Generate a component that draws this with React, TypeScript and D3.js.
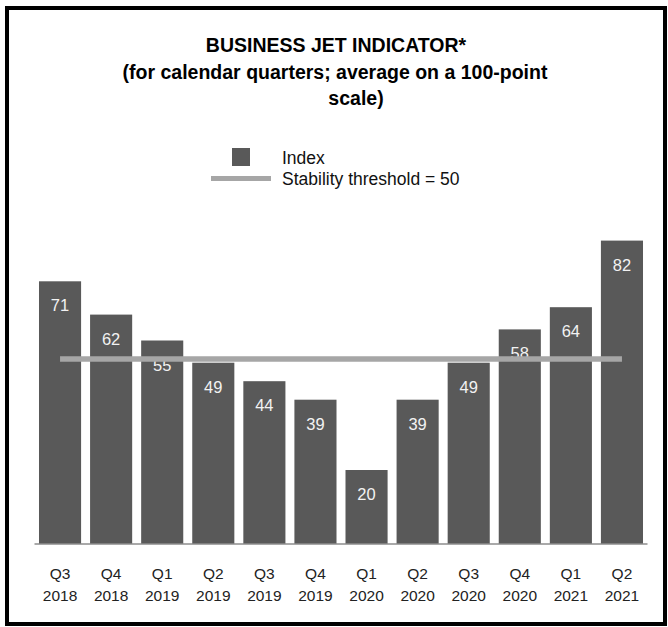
import React from "react";
import * as d3 from "d3";

const quarters = ["Q3", "Q4", "Q1", "Q2", "Q3", "Q4", "Q1", "Q2", "Q3", "Q4", "Q1", "Q2"];
const years = ["2018", "2018", "2019", "2019", "2019", "2019", "2020", "2020", "2020", "2020", "2021", "2021"];
const indexValues = [71, 62, 55, 49, 44, 39, 20, 39, 49, 58, 64, 82];
const thresholdValue = 50;
const titleLines = ["BUSINESS JET INDICATOR*", "(for calendar quarters; average on a 100-point", "scale)"];
const legendLabels = ["Index", "Stability threshold = 50"];

const W = 668;
const H = 627;
const FONT = "'Liberation Sans', Arial, sans-serif";
const BAR = "#595959";
const LINE = "#a6a6a6";

export default function App() {
  const keys = quarters.map((q, i) => `${q} ${years[i]}`);
  const x = d3.scaleBand<string>().domain(keys).range([34.5, 647.5]).paddingInner(0.176).paddingOuter(0.088);
  const y = d3.scaleLinear().domain([0, 100]).range([544, 174]);
  const bw = x.bandwidth();
  const lineGen = d3.line<number>()
    .x((_, i) => (x(keys[i]) as number) + bw / 2)
    .y((v) => y(v));
  const thresholdPts = [thresholdValue, ...indexValues.slice(1).map(() => thresholdValue)];

  return (
    <svg width={W} height={H} style={{ position: "absolute", left: 0, top: 0, background: "#fff" }} fontFamily={FONT}>
      <rect x={7} y={8} width={658} height={616} fill="#fff" stroke="#000" strokeWidth={4} />
      <g textAnchor="middle" fontWeight="bold" fontSize={19.5} fill="#000">
        <text x={336} y={52}>{titleLines[0]}</text>
        <text x={335} y={79}>{titleLines[1]}</text>
        <text x={356} y={105}>{titleLines[2]}</text>
      </g>
      <g>
        <rect x={232} y={148} width={18} height={18} fill={BAR} />
        <line x1={211} x2={271} y1={178.5} y2={178.5} stroke={LINE} strokeWidth={5} />
        <text x={282} y={164} fontSize={17.5} fill="#111">{legendLabels[0]}</text>
        <text x={282} y={184.5} fontSize={17.5} fill="#111">{legendLabels[1]}</text>
      </g>
      <g>
        {indexValues.map((v, i) => (
          <rect key={keys[i]} x={x(keys[i])} y={y(v)} width={bw} height={y(0) - y(v)} fill={BAR} />
        ))}
      </g>
      <line x1={34.5} x2={647.5} y1={y(0)} y2={y(0)} stroke="#8c8c8c" strokeWidth={1.5} />
      <g textAnchor="middle" fontSize={16.5} fill="#f2f2f2">
        {indexValues.map((v, i) => (
          <text key={keys[i]} x={(x(keys[i]) as number) + bw / 2} y={y(v) + 30}>{v}</text>
        ))}
      </g>
      <path d={lineGen(thresholdPts) || ""} fill="none" stroke={LINE} strokeWidth={5.5} />
      <g textAnchor="middle" fontSize={15.5} fill="#222">
        {keys.map((k, i) => (
          <g key={k}>
            <text x={(x(k) as number) + bw / 2} y={579}>{quarters[i]}</text>
            <text x={(x(k) as number) + bw / 2} y={601}>{years[i]}</text>
          </g>
        ))}
      </g>
    </svg>
  );
}
